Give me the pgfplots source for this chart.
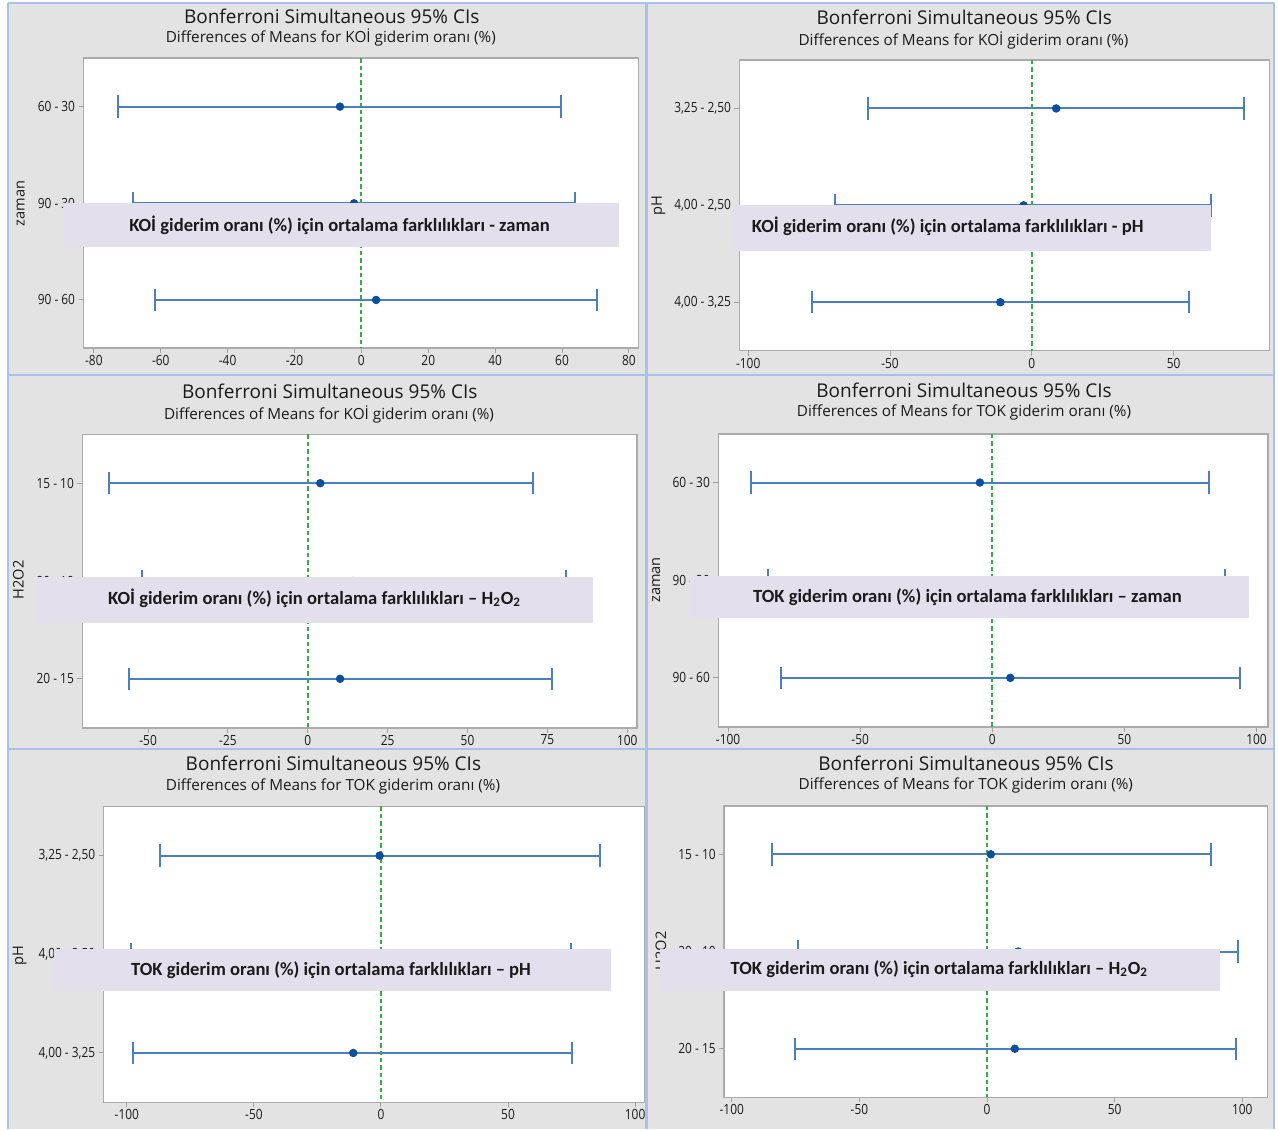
\documentclass[border=0pt]{standalone}
\usepackage{pgfplots}
\pgfplotsset{compat=1.18}
\usepackage{fontspec}
\setmainfont{Open Sans}
\newfontfamily\tickfont{Open Sans}[FakeStretch=0.85]
\newfontfamily\boxfont{Carlito}

\definecolor{panelgray}{HTML}{E3E3E3}
\definecolor{paneledge}{HTML}{A9C0E8}
\definecolor{framegray}{HTML}{ABABAB}
\definecolor{tickgray}{HTML}{A0A0A0}
\definecolor{ciblue}{HTML}{4A7FC2}
\definecolor{dotblue}{HTML}{0A4FA0}
\definecolor{zerogreen}{HTML}{35AD45}
\definecolor{boxfill}{HTML}{E4DFEC}
\definecolor{txt}{HTML}{1A1A1A}

\pgfplotsset{
  ci/.style={
    scale only axis, anchor=south west,
    y dir=reverse, ymin=0.5, ymax=3.5, ytick={1,2,3},
    axis line style={draw=framegray, line width=0.8pt},
    axis background/.style={fill=white},
    tick align=outside, major tick length=2.5pt,
    tick style={draw=tickgray, line width=0.5pt},
    xtick pos=bottom, ytick pos=left,
    tick label style={font=\tickfont\fontsize{7}{8}\selectfont, text=txt},
    xticklabel style={yshift=2.4pt},
    yticklabel style={xshift=1.8pt},
    /pgf/number format/assume math mode=true,
  },
  ival/.style={draw=ciblue, line width=1pt, mark=|, mark size=5.6pt, mark options={solid, draw=ciblue, line width=1pt}},
  dot/.style={only marks, mark=*, mark size=1.9pt, mark options={draw=dotblue, fill=dotblue}},
  zline/.style={draw=zerogreen, dash pattern=on 2.2pt off 1.5pt, line width=0.9pt},
}

\begin{document}
\begin{tikzpicture}[x=0.5pt,y=0.5pt]
\fill[white] (0,0) rectangle (1278,1129);
\fill[panelgray] (8,0) rectangle (1274,1126);

% ---------- Panel 1 ----------
\coordinate (a1) at (83.5,{1129-348.3});
\begin{axis}[ci, at={(a1)}, width=277.55pt, height=145pt,
  xmin=-83.1, xmax=82.9, xtick={-80,-60,...,80},
  yticklabels={60 - 30, 90 - 30, 90 - 60}]
\addplot[ival] coordinates {(-72.7,1) (59.7,1)};
\addplot[ival] coordinates {(-68.3,2) (64.0,2)};
\addplot[ival] coordinates {(-61.8,3) (70.6,3)};
\addplot[zline] coordinates {(0,0.5) (0,3.5)};
\addplot[dot] coordinates {(-6.4,1) (-2.2,2) (4.4,3)};
\end{axis}

% ---------- Panel 2 ----------
\coordinate (a2) at (739.4,{1129-350.7});
\begin{axis}[ci, at={(a2)}, width=265.05pt, height=145.35pt,
  xmin=-103.1, xmax=83.8, xtick={-100,-50,0,50},
  yticklabels={{3,25 - 2,50},{4,00 - 2,50},{4,00 - 3,25}}]
\addplot[ival] coordinates {(-57.8,1) (74.7,1)};
\addplot[ival] coordinates {(-69.3,2) (63.3,2)};
\addplot[ival] coordinates {(-77.6,3) (55.3,3)};
\addplot[zline] coordinates {(0,0.5) (0,3.5)};
\addplot[dot] coordinates {(8.6,1) (-2.9,2) (-11.1,3)};
\end{axis}

% ---------- Panel 3 ----------
\coordinate (a3) at (82.3,{1129-727.7});
\begin{axis}[ci, at={(a3)}, width=277.25pt, height=146.7pt,
  xmin=-70.6, xmax=103.0, xtick={-50,-25,...,100},
  yticklabels={15 - 10, 20 - 10, 20 - 15}]
\addplot[ival] coordinates {(-62.2,1) (70.4,1)};
\addplot[ival] coordinates {(-52.0,2) (80.7,2)};
\addplot[ival] coordinates {(-55.9,3) (76.3,3)};
\addplot[zline] coordinates {(0,0.5) (0,3.5)};
\addplot[dot] coordinates {(3.9,1) (14.1,2) (10.1,3)};
\end{axis}

% ---------- Panel 4 ----------
\coordinate (a4) at (718.3,{1129-726.7});
\begin{axis}[ci, at={(a4)}, width=274.8pt, height=146.5pt,
  xmin=-103.7, xmax=104.3, xtick={-100,-50,0,50,100},
  yticklabels={60 - 30, 90 - 30, 90 - 60}]
\addplot[ival] coordinates {(-91.3,1) (82.1,1)};
\addplot[ival] coordinates {(-85.0,2) (88.0,2)};
\addplot[ival] coordinates {(-80.1,3) (93.6,3)};
\addplot[zline] coordinates {(0,0.5) (0,3.5)};
\addplot[dot] coordinates {(-4.7,1) (1.9,2) (6.8,3)};
\end{axis}

% ---------- Panel 5 ----------
\coordinate (a5) at (103.7,{1129-1102.3});
\begin{axis}[ci, at={(a5)}, width=270.65pt, height=148pt,
  xmin=-109.1, xmax=103.9, xtick={-100,-50,0,50,100},
  yticklabels={{3,25 - 2,50},{4,00 - 2,50},{4,00 - 3,25}}]
\addplot[ival] coordinates {(-87.1,1) (86.1,1)};
\addplot[ival] coordinates {(-98.3,2) (74.8,2)};
\addplot[ival] coordinates {(-97.4,3) (75.3,3)};
\addplot[zline] coordinates {(0,0.5) (0,3.5)};
\addplot[dot] coordinates {(-0.5,1) (-11.3,2) (-10.9,3)};
\end{axis}

% ---------- Panel 6 ----------
\coordinate (a6) at (724.1,{1129-1097.3});
\begin{axis}[ci, at={(a6)}, width=271.7pt, height=145.8pt,
  xmin=-103.0, xmax=109.9, xtick={-100,-50,0,50,100},
  yticklabels={15 - 10, 20 - 10, 20 - 15}]
\addplot[ival] coordinates {(-84.3,1) (87.9,1)};
\addplot[ival] coordinates {(-74.1,2) (98.5,2)};
\addplot[ival] coordinates {(-75.1,3) (97.5,3)};
\addplot[zline] coordinates {(0,0.5) (0,3.5)};
\addplot[dot] coordinates {(1.5,1) (12.2,2) (10.9,3)};
\end{axis}

% panel borders
\begin{scope}[draw=paneledge, line width=1.1pt]
\draw (8,0) -- (8,1126);
\draw (646.5,0) -- (646.5,1126);
\draw (1274,0) -- (1274,1126);
\draw (8,1126) -- (1274,1126);
\draw (8,{1129-375}) -- (1274,{1129-375});
\draw (8,{1129-749}) -- (1274,{1129-749});
\end{scope}

% titles
\begin{scope}[text=txt]
\node[font=\fontsize{9.5}{11}\selectfont] at (331.7,{1129-16}) {Bonferroni Simultaneous 95\% CIs};
\node[font=\fontsize{7.65}{10}\selectfont] at (330.8,{1129-37.7}) {Differences of Means for KOİ giderim oranı (\%)};
\node[font=\fontsize{9.5}{11}\selectfont] at (964.3,{1129-17.3}) {Bonferroni Simultaneous 95\% CIs};
\node[font=\fontsize{7.65}{10}\selectfont] at (963.5,{1129-40}) {Differences of Means for KOİ giderim oranı (\%)};
\node[font=\fontsize{9.5}{11}\selectfont] at (329.7,{1129-391}) {Bonferroni Simultaneous 95\% CIs};
\node[font=\fontsize{7.65}{10}\selectfont] at (329,{1129-414.3}) {Differences of Means for KOİ giderim oranı (\%)};
\node[font=\fontsize{9.5}{11}\selectfont] at (964,{1129-390}) {Bonferroni Simultaneous 95\% CIs};
\node[font=\fontsize{7.65}{10}\selectfont] at (964,{1129-412.7}) {Differences of Means for TOK giderim oranı (\%)};
\node[font=\fontsize{9.5}{11}\selectfont] at (333.4,{1129-763}) {Bonferroni Simultaneous 95\% CIs};
\node[font=\fontsize{7.65}{10}\selectfont] at (333,{1129-786.3}) {Differences of Means for TOK giderim oranı (\%)};
\node[font=\fontsize{9.5}{11}\selectfont] at (966,{1129-763}) {Bonferroni Simultaneous 95\% CIs};
\node[font=\fontsize{7.65}{10}\selectfont] at (965.8,{1129-785.7}) {Differences of Means for TOK giderim oranı (\%)};

% y labels
\node[rotate=90, font=\fontsize{7.3}{9}\selectfont] at (20.6,{1129-203.3}) {zaman};
\node[rotate=90, font=\fontsize{7.3}{9}\selectfont] at (658.4,{1129-205.7}) {pH};
\node[rotate=90, font=\fontsize{7.3}{9}\selectfont] at (18.5,{1129-580}) {H2O2};
\node[rotate=90, font=\fontsize{7.3}{9}\selectfont] at (656.3,{1129-580}) {zaman};
\node[rotate=90, font=\fontsize{7.3}{9}\selectfont] at (19.7,{1129-956}) {pH};
\node[rotate=90, font=\fontsize{7.3}{9}\selectfont] at (661,{1129-951}) {H2O2};
\end{scope}

% overlay boxes
\begin{scope}[every node/.style={font=\boxfont\bfseries\fontsize{9.3}{11}\selectfont, text=txt, inner sep=0pt}]
\fill[boxfill] (62.6,{1129-202.7}) rectangle (619.3,{1129-247});
\node at (339.5,{1129-225}) {KOİ giderim oranı (\%) için ortalama farklılıkları - zaman};
\fill[boxfill] (732.5,{1129-205}) rectangle (1210.8,{1129-250.7});
\node[anchor=west] at (751.5,{1129-226.7}) {KOİ giderim oranı (\%) için ortalama farklılıkları - pH};
\fill[boxfill] (36.2,{1129-577}) rectangle (593.2,{1129-622.7});
\node[anchor=west] at (107.8,{1129-598.3}) {KOİ giderim oranı (\%) için ortalama farklılıkları – H\textsubscript{2}O\textsubscript{2}};
\fill[boxfill] (689.6,{1129-576}) rectangle (1248.9,{1129-617.7});
\node[anchor=west] at (752.7,{1129-596.7}) {TOK giderim oranı (\%) için ortalama farklılıkları – zaman};
\fill[boxfill] (54.3,{1129-949}) rectangle (610.9,{1129-990.7});
\node[anchor=west] at (130.8,{1129-969.7}) {TOK giderim oranı (\%) için ortalama farklılıkları – pH};
\fill[boxfill] (660.4,{1129-949}) rectangle (1219.6,{1129-990.7});
\node[anchor=west] at (730.2,{1129-969}) {TOK giderim oranı (\%) için ortalama farklılıkları – H\textsubscript{2}O\textsubscript{2}};
\end{scope}
\end{tikzpicture}
\end{document}
